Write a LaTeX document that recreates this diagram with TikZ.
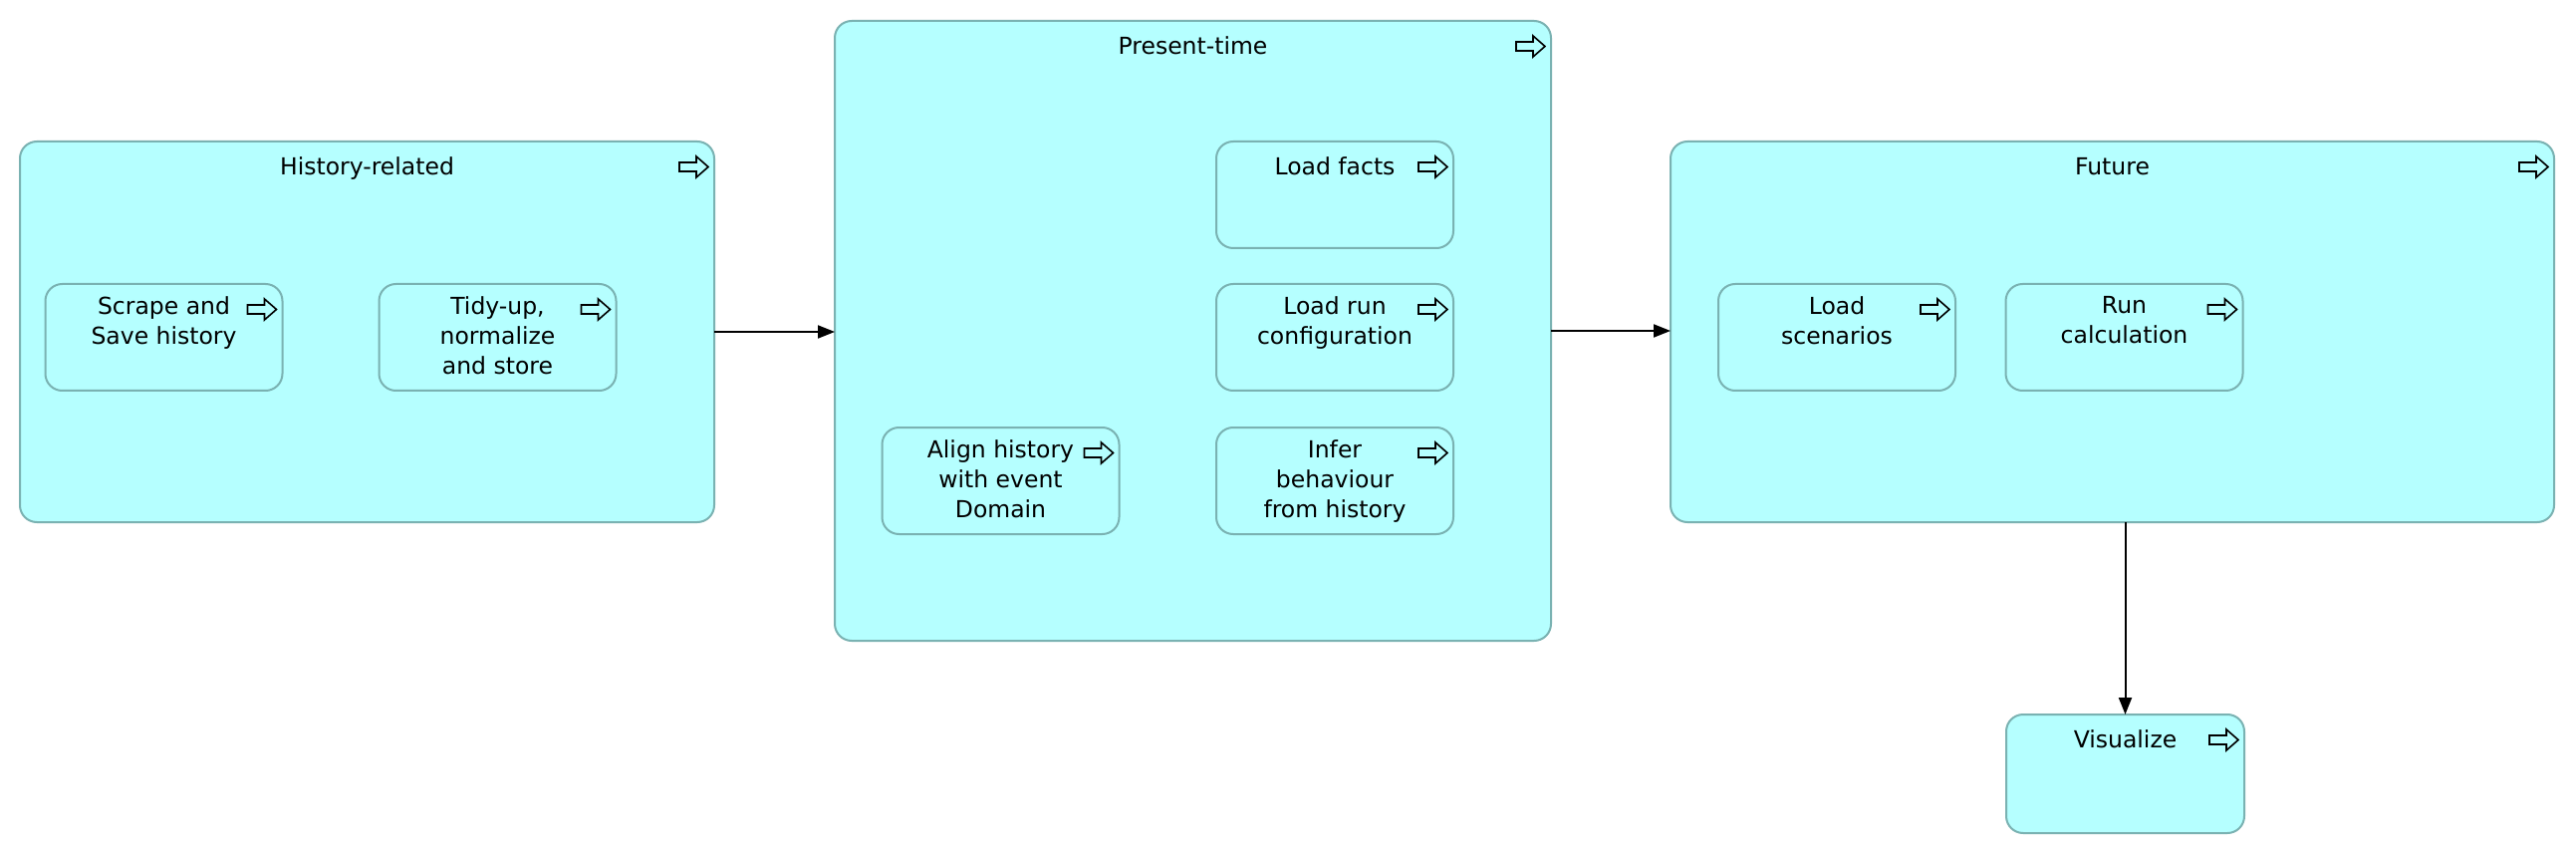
\documentclass[tikz,border=0pt]{standalone}
\usepackage{fontspec}
\setmainfont{DejaVu Sans}
\usetikzlibrary{arrows.meta,calc}
\definecolor{appfill}{RGB}{181,255,255}
\definecolor{appline}{RGB}{122,178,178}
\newcommand\procIcon[1]{\begin{scope}[shift={(#1.north east)}]\draw[procicon] (-35,21) -- (-18,21) -- (-18,15) -- (-6,25.5) -- (-18,36) -- (-18,30) -- (-35,30) -- cycle;\end{scope}}
\begin{document}
\begin{tikzpicture}[x=1pt,y=-1pt,
  box/.style={draw=appline, fill=appfill, line width=2pt, rounded corners=17pt, inner sep=0pt, outer sep=0pt},
  smallbox/.style={box, minimum width=238pt, minimum height=107pt},
  lbl/.style={anchor=north, inner sep=0pt, align=center, font=\fontsize{23.5}{30}\selectfont, execute at begin node=\strut},
  conn/.style={draw=black, line width=2pt, -{Triangle[length=17pt,width=13pt]}},
  procicon/.style={draw=black, line width=1.6pt, fill=appfill, line join=miter}]
\fill[white] (0,0) rectangle (2586,858);
\useasboundingbox (0,0) rectangle (2586,858);

% big containers
\node[box, minimum width=697pt, minimum height=382pt] (hist) at (368.5,333) {};
\node[box, minimum width=719pt, minimum height=622pt] (pres) at (1197.5,332) {};
\node[box, minimum width=887pt, minimum height=382pt] (fut) at (2120.5,333) {};

% inner processes
\node[smallbox] (scrape) at (164.5,338.5) {};
\node[smallbox] (tidy) at (499.5,338.5) {};
\node[smallbox] (facts) at (1340,195.5) {};
\node[smallbox] (runcfg) at (1340,338.5) {};
\node[smallbox] (infer) at (1340,482.5) {};
\node[smallbox] (align) at (1004.5,482.5) {};
\node[smallbox] (loadsc) at (1844,338.5) {};
\node[smallbox] (runcalc) at (2132.5,338.5) {};
\node[box, minimum width=239pt, minimum height=119pt] (vis) at (2133.5,776.5) {};

% labels
\node[lbl] (histT) at ([yshift=-12.5pt]hist.north) {History-related};
\node[lbl] (presT) at ([yshift=-12.5pt]pres.north) {Present-time};
\node[lbl] (futT) at ([yshift=-12.5pt]fut.north) {Future};
\node[lbl] (scrapeT) at ([yshift=-12.5pt]scrape.north) {Scrape and\\Save history};
\node[lbl] (tidyT) at ([yshift=-12.5pt]tidy.north) {Tidy-up,\\normalize\\and store};
\node[lbl] (factsT) at ([yshift=-12.5pt]facts.north) {Load facts};
\node[lbl] (runcfgT) at ([yshift=-12.5pt]runcfg.north) {Load run\\configuration};
\node[lbl] (inferT) at ([yshift=-12.5pt]infer.north) {Infer\\behaviour\\from history};
\node[lbl] (alignT) at ([yshift=-12.5pt]align.north) {Align history\\with event\\Domain};
\node[lbl] (loadscT) at ([yshift=-12.5pt]loadsc.north) {Load\\scenarios};
\node[lbl] (runcalcT) at ([yshift=-12.5pt]runcalc.north) {Run\\calculation};
\node[lbl] (visT) at ([yshift=-12.5pt]vis.north) {Visualize};

% process icons
\foreach \n in {hist,pres,fut,scrape,tidy,facts,runcfg,infer,align,loadsc,runcalc,vis}{\procIcon{\n}}

% connectors
\draw[conn] (hist.east) -- (hist.east -| pres.west);
\draw[conn] (pres.east) -- (pres.east -| fut.west);
\draw[conn] (vis.north |- fut.south) -- (vis.north);
\end{tikzpicture}
\end{document}
